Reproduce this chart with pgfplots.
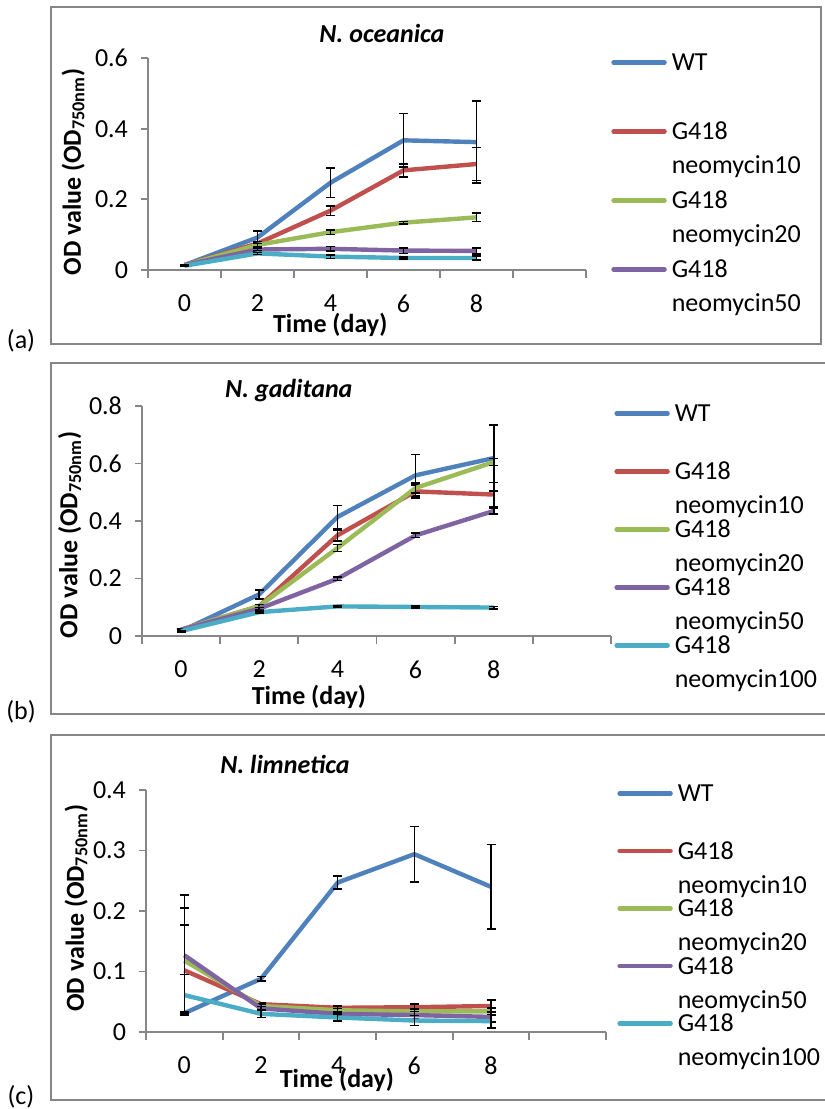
\documentclass[border=0pt]{standalone}
\usepackage{pgfplots}
\pgfplotsset{compat=1.18}
\usepackage{pgfplotstable}
\usepackage{fontspec}
\setmainfont{Carlito}
\newcommand{\fsz}{\fontsize{13pt}{15.6pt}\selectfont}
\definecolor{cWT}{HTML}{4F81BD}
\definecolor{cR}{HTML}{C0504D}
\definecolor{cG}{HTML}{9BBB59}
\definecolor{cP}{HTML}{8064A2}
\definecolor{cC}{HTML}{4BACC6}
\definecolor{axgray}{HTML}{868686}

% panel (a) N. oceanica
\pgfplotstableread{
x y e
0 0.014 0.002
2 0.092 0.019
4 0.247 0.042
6 0.367 0.076
8 0.362 0.116
}\aWT
\pgfplotstableread{
x y e
0 0.014 0.002
2 0.075 0.005
4 0.168 0.014
6 0.282 0.018
8 0.300 0.047
}\aR
\pgfplotstableread{
x y e
0 0.014 0.002
2 0.071 0.004
4 0.107 0.006
6 0.134 0.003
8 0.149 0.012
}\aG
\pgfplotstableread{
x y e
0 0.014 0.002
2 0.058 0.004
4 0.060 0.006
6 0.055 0.008
8 0.054 0.008
}\aP
\pgfplotstableread{
x y e
0 0.012 0.002
2 0.047 0.003
4 0.038 0.005
6 0.034 0.003
8 0.034 0.006
}\aC
% panel (b) N. gaditana
\pgfplotstableread{
x y e
0 0.017 0.003
2 0.145 0.016
4 0.414 0.040
6 0.559 0.072
8 0.619 0.114
}\bWT
\pgfplotstableread{
x y e
0 0.022 0.002
2 0.104 0.005
4 0.350 0.019
6 0.503 0.022
8 0.492 0.042
}\bR
\pgfplotstableread{
x y e
0 0.022 0.002
2 0.104 0.005
4 0.306 0.012
6 0.515 0.018
8 0.605 0.012
}\bG
\pgfplotstableread{
x y e
0 0.022 0.002
2 0.095 0.004
4 0.199 0.006
6 0.350 0.008
8 0.435 0.010
}\bP
\pgfplotstableread{
x y e
0 0.017 0.002
2 0.083 0.003
4 0.103 0.003
6 0.101 0.003
8 0.099 0.004
}\bC
% panel (c) N. limnetica
\pgfplotstableread{
x y e
0 0.031 0.003
2 0.088 0.004
4 0.247 0.011
6 0.294 0.046
8 0.240 0.070
}\cWT
\pgfplotstableread{
x y e
0 0.102 0.075
2 0.046 0.003
4 0.040 0.003
6 0.041 0.005
8 0.043 0.010
}\cR
\pgfplotstableread{
x y e
0 0.118 0.087
2 0.043 0.003
4 0.036 0.003
6 0.034 0.004
8 0.034 0.006
}\cG
\pgfplotstableread{
x y e
0 0.127 0.099
2 0.039 0.003
4 0.030 0.003
6 0.028 0.006
8 0.025 0.008
}\cP
\pgfplotstableread{
x y e
0 0.061 0.034
2 0.030 0.006
4 0.024 0.006
6 0.019 0.008
8 0.018 0.011
}\cC

\pgfplotsset{
  ser/.style={color=#1, line width=2.2pt, no markers, line join=round,
    error bars/y dir=both, error bars/y explicit,
    error bars/error bar style={black, line width=0.8pt},
    error bars/error mark options={black, line width=0.8pt, mark size=2.25pt, rotate=90}},
  panel/.style={
    scale only axis, anchor=south west, clip=false,
    xmin=-1, xmax=11, ymin=0,
    axis lines*=left,
    axis line style={draw=axgray, line width=0.9pt},
    xtick={0,2,4,6,8},
    minor xtick={-1,1,3,5,7,9,11},
    major x tick style={draw=none},
    minor x tick style={draw=axgray, line width=0.9pt},
    minor tick length=4pt,
    y tick style={draw=axgray, line width=0.9pt},
    major tick length=3.5pt,
    tick align=outside,
    /pgf/number format/assume math mode=true,
    tick label style={font=\fsz, text=black},
    xticklabel style={yshift=-4.5pt},
    yticklabel style={xshift=-2pt},
    label style={font=\fsz\bfseries},
    title style={font=\fsz\bfseries\itshape, anchor=center},
    ylabel={OD value (OD\textsubscript{750nm})},
    xlabel={Time (day)},
    legend style={draw=none, fill=none, anchor=north west, inner sep=0pt,
      column sep=2.5pt, font=\fsz,
      nodes={inner sep=0pt, text height=9pt, text depth=0.6pt},
      cells={anchor=west}},
    legend image code/.code={\draw[#1, line width=2.2pt, line cap=round] (0pt,0pt) -- (25.5pt,0pt);},
  }
}

\begin{document}
\fsz
\begin{tikzpicture}
\useasboundingbox (0,0) rectangle (412.5pt,-554.5pt);
\begin{scope}[x=0.5pt,y=-0.5pt]
\draw[axgray, line width=0.9pt] (51,7) rectangle (821,344);
\draw[axgray, line width=0.9pt] (830,363) -- (51,363) -- (51,714) -- (830,714);
\draw[axgray, line width=0.9pt] (830,735) -- (51,735) -- (51,1100) -- (830,1100);
\node[font=\fsz] at (21,341) {(a)};
\node[font=\fsz] at (21,712) {(b)};
\node[font=\fsz] at (21,1097) {(c)};
\end{scope}

% (a)
\begin{axis}[panel, at={(74pt,-135pt)}, width=219pt, height=106pt,
  ymax=0.6, ytick={0,0.2,0.4,0.6},
  title={N. oceanica},
  title style={at={(axis description cs:0.534,1.061)}},
  xlabel style={at={(axis description cs:0.416,-0.259)}, anchor=center},
  ylabel style={at={(axis description cs:-0.171,0.462)}, anchor=center},
  legend style={at={(axis description cs:1.057,1.0264)}, row sep=24.9pt}]
\addplot[ser=cWT] table[x=x,y=y,y error=e] {\aWT};
\addlegendentry{WT}
\addplot[ser=cR] table[x=x,y=y,y error=e] {\aR};
\addlegendentry{\rlap{\raisebox{-17pt}{neomycin10}}G418}
\addplot[ser=cG] table[x=x,y=y,y error=e] {\aG};
\addlegendentry{\rlap{\raisebox{-17pt}{neomycin20}}G418}
\addplot[ser=cP] table[x=x,y=y,y error=e] {\aP};
\addlegendentry{\rlap{\raisebox{-17pt}{neomycin50}}G418}
\addplot[forget plot, ser=cC] table[x=x,y=y,y error=e] {\aC};
\end{axis}

% (b)
\begin{axis}[panel, at={(71pt,-318pt)}, width=234.5pt, height=115pt,
  ymax=0.8, ytick={0,0.2,0.4,0.6,0.8},
  title={N. gaditana},
  title style={at={(axis description cs:0.313,1.017)}},
  xlabel style={at={(axis description cs:0.356,-0.265)}, anchor=center},
  ylabel style={at={(axis description cs:-0.154,0.439)}, anchor=center},
  legend style={at={(axis description cs:1.0064,1.0113)}, row sep=19.4pt}]
\addplot[ser=cWT] table[x=x,y=y,y error=e] {\bWT};
\addlegendentry{WT}
\addplot[ser=cR] table[x=x,y=y,y error=e] {\bR};
\addlegendentry{\rlap{\raisebox{-17pt}{neomycin10}}G418}
\addplot[ser=cG] table[x=x,y=y,y error=e] {\bG};
\addlegendentry{\rlap{\raisebox{-17pt}{neomycin20}}G418}
\addplot[ser=cP] table[x=x,y=y,y error=e] {\bP};
\addlegendentry{\rlap{\raisebox{-17pt}{neomycin50}}G418}
\addplot[ser=cC] table[x=x,y=y,y error=e] {\bC};
\addlegendentry{\rlap{\raisebox{-17pt}{neomycin100}}G418}
\end{axis}

% (c)
\begin{axis}[panel, at={(73pt,-516pt)}, width=230pt, height=121pt,
  ymax=0.4, ytick={0,0.1,0.2,0.3,0.4},
  title={N. limnetica},
  title style={at={(axis description cs:0.302,1.054)}},
  xlabel style={at={(axis description cs:0.415,-0.198)}, anchor=center},
  ylabel style={at={(axis description cs:-0.152,0.512)}, anchor=center},
  legend style={at={(axis description cs:1.0239,1.0273)}, row sep=19.15pt}]
\addplot[ser=cWT] table[x=x,y=y,y error=e] {\cWT};
\addlegendentry{WT}
\addplot[ser=cR] table[x=x,y=y,y error=e] {\cR};
\addlegendentry{\rlap{\raisebox{-17pt}{neomycin10}}G418}
\addplot[ser=cG] table[x=x,y=y,y error=e] {\cG};
\addlegendentry{\rlap{\raisebox{-17pt}{neomycin20}}G418}
\addplot[ser=cP] table[x=x,y=y,y error=e] {\cP};
\addlegendentry{\rlap{\raisebox{-17pt}{neomycin50}}G418}
\addplot[ser=cC] table[x=x,y=y,y error=e] {\cC};
\addlegendentry{\rlap{\raisebox{-17pt}{neomycin100}}G418}
\end{axis}
\end{tikzpicture}
\end{document}
